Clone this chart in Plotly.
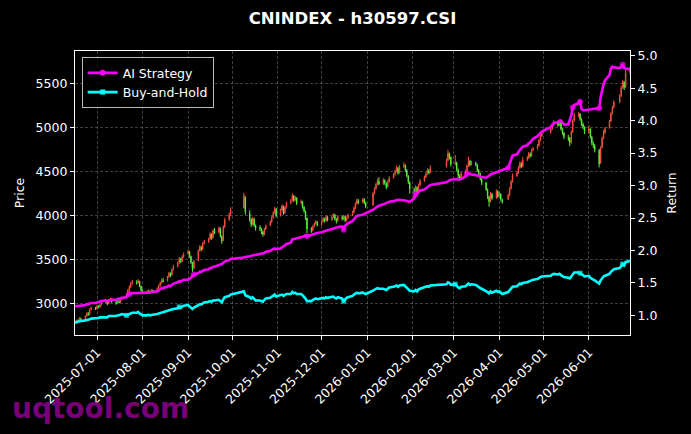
import datetime as dt
import plotly.graph_objects as go

# ---------------- data (one row per week, Mon..Fri; None = market closed) -------------
FIRST_MONDAY = dt.date(2025, 6, 16)
N = None

opens = [
    2775, 2780, 2805, 2795, 2825,
    2820, 2855, 2880, 2875, 2935,
    2945, 2940, 2965, 2960, 2990,
    3010, 3025, 3000, 3040, 3045,
    3015, 3005, 3025, 3015, 3050,
    3070, 3105, 3155, 3190, 3230,
    3245, 3240, 3250, 3195, 3145,
    3120, 3130, 3140, 3130, 3145,
    3145, 3175, 3205, 3240, 3260,
    3260, 3305, 3340, 3325, 3390,
    3425, 3465, 3505, 3480, 3535,
    3570, 3585, 3535, 3465, 3405,
    3490, 3605, 3640, 3620, 3685,
    3700, 3735, 3785, 3750, 3830,
    3810, 3855, 3765, 3720, 3875,
    3955, 4015, N, N, N,
    N, N, N, 4090, 4210,
    4030, 3955, 3905, 3960, 3885,
    3865, 3845, 3815, 3790, 3850,
    3890, 3930, 3980, 4035, 4075,
    4005, 4065, 4105, 4035, 4095,
    4145, 4175, 4225, 4180, 4200,
    4145, 4155, 4095, 4050, 3970,
    3845, 3835, 3880, 3910, 3925,
    3900, 3940, 3960, 3945, 3980,
    3955, 3990, 4010, 3955, 3945,
    3985, 3965, 3990, 3950, 3980,
    4010, 4040, 4090, 4140, 4170,
    4155, 4185, 4145, N, N,
    4120, 4255, 4310, 4360, 4390,
    4365, 4400, 4365, 4330, 4390,
    4435, 4470, 4510, 4540, 4490,
    4560, 4570, 4515, 4450, 4380,
    4295, 4285, 4320, 4270, 4350,
    4400, 4440, 4480, 4510, 4495,
    N, N, N, N, N,
    N, 4560, 4630, 4705, 4665,
    4590, 4600, 4520, 4450, 4425,
    4485, 4510, 4570, 4620, 4585,
    4600, 4575, 4515, 4475, 4415,
    4375, 4295, 4215, 4165, 4245,
    4205, 4275, 4225, 4245, 4180,
    N, 4185, 4235, 4310, 4390,
    4455, 4490, 4550, 4590, 4565,
    4640, 4660, 4700, 4685, 4750,
    4770, 4800, 4860, 4910, N,
    N, N, 4950, 4990, 5035,
    5065, 5035, 5060, 4985, 4940,
    4895, 4885, 4835, 4955, 5085,
    5145, 5155, 5095, 5040, 5005,
    4965, 4985, 4895, 4825, 4795,
    4745, 4600, 4775, 4885, 4945,
    5000, 5075, 5165, 5235, N,
    5295, 5365, 5460, 5520, 5465,
    5635, N, N, N, N,
]

highs = [
    2805, 2815, 2820, 2845, 2840,
    2865, 2900, 2905, 2945, 2965,
    2960, 2985, 2980, 3000, 3020,
    3050, 3035, 3050, 3065, 3060,
    3030, 3045, 3040, 3060, 3075,
    3115, 3165, 3205, 3245, 3270,
    3265, 3275, 3260, 3205, 3160,
    3150, 3160, 3150, 3165, 3160,
    3185, 3215, 3250, 3285, 3290,
    3315, 3360, 3355, 3400, 3440,
    3480, 3530, 3520, 3550, 3580,
    3615, 3600, 3545, 3475, 3495,
    3615, 3665, 3655, 3700, 3725,
    3750, 3810, 3800, 3845, 3860,
    3880, 3865, 3775, 3890, 3975,
    4035, 4095, N, N, N,
    N, N, N, 4260, 4220,
    4060, 3975, 3985, 3975, 3900,
    3890, 3860, 3830, 3860, 3900,
    3945, 3995, 4050, 4100, 4090,
    4080, 4130, 4115, 4110, 4160,
    4190, 4255, 4235, 4225, 4210,
    4185, 4170, 4110, 4060, 3980,
    3870, 3895, 3925, 3950, 3940,
    3955, 3985, 3975, 4005, 3995,
    4005, 4030, 4020, 3975, 4005,
    4000, 4010, 4000, 3990, 4025,
    4055, 4105, 4155, 4195, 4190,
    4205, 4200, 4160, N, N,
    4270, 4325, 4375, 4420, 4440,
    4425, 4415, 4380, 4405, 4450,
    4485, 4525, 4570, 4555, 4575,
    4610, 4585, 4530, 4460, 4390,
    4320, 4345, 4335, 4365, 4415,
    4455, 4495, 4540, 4530, 4575,
    N, N, N, N, N,
    N, 4650, 4750, 4720, 4675,
    4690, 4615, 4535, 4470, 4500,
    4525, 4585, 4670, 4635, 4625,
    4615, 4590, 4530, 4490, 4425,
    4385, 4310, 4225, 4270, 4260,
    4300, 4290, 4270, 4255, 4195,
    N, 4250, 4325, 4405, 4480,
    4505, 4565, 4620, 4610, 4670,
    4680, 4725, 4720, 4765, 4785,
    4815, 4875, 4925, 4965, N,
    N, N, 5005, 5055, 5085,
    5080, 5090, 5070, 5000, 4955,
    4920, 4895, 4970, 5100, 5170,
    5180, 5170, 5110, 5060, 5020,
    5030, 4995, 4910, 4845, 4815,
    4760, 4790, 4900, 4975, 5010,
    5090, 5180, 5250, 5315, N,
    5385, 5480, 5545, 5535, 5660,
    5700, N, N, N, N,
]

lows = [
    2765, 2770, 2775, 2785, 2800,
    2810, 2845, 2860, 2865, 2920,
    2925, 2930, 2945, 2950, 2975,
    3000, 2980, 2990, 3025, 3005,
    2985, 2995, 3000, 3005, 3035,
    3060, 3095, 3140, 3175, 3215,
    3215, 3225, 3185, 3135, 3110,
    3110, 3120, 3115, 3120, 3125,
    3135, 3165, 3190, 3225, 3240,
    3250, 3290, 3300, 3315, 3375,
    3410, 3450, 3460, 3470, 3520,
    3555, 3520, 3450, 3360, 3390,
    3480, 3590, 3595, 3610, 3670,
    3690, 3720, 3725, 3740, 3790,
    3800, 3750, 3680, 3710, 3860,
    3940, 4000, N, N, N,
    N, N, N, 4080, 4010,
    3930, 3870, 3890, 3870, 3830,
    3825, 3790, 3760, 3775, 3835,
    3880, 3915, 3965, 4020, 3980,
    3990, 4050, 4010, 4020, 4080,
    4130, 4160, 4155, 4165, 4120,
    4125, 4080, 4035, 3950, 3800,
    3805, 3820, 3865, 3895, 3875,
    3885, 3925, 3920, 3930, 3935,
    3940, 3975, 3945, 3910, 3930,
    3945, 3950, 3925, 3935, 3965,
    3995, 4025, 4075, 4125, 4130,
    4140, 4130, 4085, N, N,
    4110, 4240, 4295, 4345, 4345,
    4350, 4350, 4300, 4320, 4375,
    4420, 4455, 4495, 4465, 4480,
    4545, 4500, 4435, 4360, 4250,
    4250, 4270, 4245, 4260, 4335,
    4385, 4425, 4465, 4470, 4480,
    N, N, N, N, N,
    N, 4545, 4615, 4640, 4560,
    4570, 4505, 4430, 4400, 4410,
    4440, 4495, 4555, 4560, 4570,
    4560, 4500, 4460, 4400, 4350,
    4280, 4190, 4100, 4150, 4180,
    4190, 4200, 4210, 4165, 4140,
    N, 4180, 4220, 4295, 4375,
    4440, 4475, 4535, 4540, 4550,
    4620, 4645, 4660, 4670, 4735,
    4750, 4785, 4845, 4895, N,
    N, N, 4935, 4975, 5015,
    5010, 5020, 4970, 4920, 4870,
    4850, 4790, 4820, 4940, 5070,
    5120, 5080, 5020, 4985, 4930,
    4940, 4880, 4800, 4770, 4720,
    4550, 4590, 4765, 4870, 4930,
    4990, 5065, 5150, 5220, N,
    5280, 5350, 5445, 5430, 5455,
    5610, N, N, N, N,
]

closes = [
    2790, 2800, 2790, 2830, 2815,
    2850, 2885, 2870, 2930, 2950,
    2935, 2970, 2955, 2985, 3005,
    3030, 2995, 3035, 3050, 3020,
    3000, 3030, 3010, 3045, 3060,
    3100, 3150, 3185, 3225, 3250,
    3235, 3255, 3200, 3150, 3125,
    3135, 3145, 3125, 3150, 3140,
    3170, 3200, 3235, 3265, 3250,
    3300, 3345, 3320, 3385, 3420,
    3460, 3510, 3475, 3530, 3560,
    3590, 3540, 3470, 3400, 3480,
    3600, 3645, 3615, 3680, 3705,
    3730, 3790, 3745, 3825, 3805,
    3860, 3770, 3710, 3870, 3950,
    4010, 4070, N, N, N,
    N, N, N, 4230, 4040,
    3950, 3900, 3965, 3890, 3860,
    3850, 3820, 3785, 3845, 3885,
    3925, 3975, 4030, 4080, 4000,
    4060, 4110, 4030, 4090, 4140,
    4170, 4230, 4175, 4205, 4140,
    4160, 4100, 4055, 3975, 3850,
    3830, 3875, 3905, 3930, 3895,
    3935, 3965, 3940, 3985, 3950,
    3985, 4015, 3960, 3940, 3990,
    3960, 3995, 3945, 3975, 4005,
    4035, 4085, 4135, 4175, 4150,
    4180, 4150, 4105, N, N,
    4250, 4305, 4355, 4395, 4360,
    4405, 4370, 4325, 4385, 4430,
    4465, 4505, 4545, 4485, 4555,
    4575, 4520, 4455, 4385, 4300,
    4280, 4325, 4265, 4345, 4395,
    4435, 4475, 4515, 4490, 4545,
    N, N, N, N, N,
    N, 4625, 4710, 4660, 4585,
    4605, 4525, 4455, 4420, 4480,
    4505, 4565, 4625, 4580, 4605,
    4580, 4520, 4480, 4420, 4380,
    4300, 4220, 4160, 4250, 4200,
    4280, 4220, 4250, 4185, 4150,
    N, 4230, 4305, 4385, 4450,
    4485, 4545, 4595, 4560, 4635,
    4655, 4705, 4680, 4745, 4765,
    4795, 4855, 4905, 4940, N,
    N, N, 4985, 5030, 5060,
    5030, 5065, 4990, 4945, 4900,
    4880, 4830, 4950, 5080, 5140,
    5160, 5100, 5045, 5010, 4960,
    4990, 4900, 4830, 4800, 4750,
    4590, 4770, 4880, 4950, 4990,
    5070, 5160, 5230, 5290, N,
    5360, 5455, 5525, 5460, 5630,
    5680, N, N, N, N,
]

ai_strategy = [
    1.14, 1.14, 1.14, 1.15, 1.15,
    1.16, 1.17, 1.17, 1.18, 1.19,
    1.19, 1.20, 1.20, 1.21, 1.22,
    1.23, 1.22, 1.23, 1.24, 1.24,
    1.24, 1.25, 1.25, 1.26, 1.27,
    1.28, 1.31, 1.33, 1.34, 1.34,
    1.34, 1.35, 1.34, 1.34, 1.34,
    1.34, 1.35, 1.35, 1.36, 1.36,
    1.37, 1.38, 1.40, 1.42, 1.42,
    1.44, 1.46, 1.45, 1.47, 1.49,
    1.51, 1.53, 1.52, 1.54, 1.55,
    1.55, 1.56, 1.58, 1.61, 1.63,
    1.65, 1.67, 1.67, 1.69, 1.70,
    1.71, 1.73, 1.73, 1.75, 1.75,
    1.77, 1.78, 1.79, 1.81, 1.83,
    1.85, 1.87, N, N, N,
    N, N, N, 1.89, 1.90,
    1.91, 1.92, 1.93, 1.93, 1.93,
    1.94, 1.95, 1.95, 1.96, 1.98,
    1.99, 2.01, 2.02, 2.03, 2.02,
    2.03, 2.05, 2.06, 2.08, 2.10,
    2.12, 2.17, 2.17, 2.18, 2.19,
    2.20, 2.21, 2.22, 2.23, 2.22,
    2.24, 2.25, 2.26, 2.27, 2.27,
    2.28, 2.29, 2.30, 2.31, 2.31,
    2.33, 2.34, 2.34, 2.35, 2.36,
    2.37, 2.32, 2.38, 2.40, 2.42,
    2.45, 2.49, 2.51, 2.53, 2.54,
    2.55, 2.56, 2.57, N, N,
    2.62, 2.64, 2.66, 2.68, 2.69,
    2.71, 2.72, 2.72, 2.74, 2.75,
    2.76, 2.77, 2.78, 2.78, 2.78,
    2.78, 2.77, 2.76, 2.76, 2.75,
    2.80, 2.86, 2.88, 2.90, 2.92,
    2.94, 2.96, 2.98, 2.99, 3.01,
    N, N, N, N, N,
    N, 3.05, 3.07, 3.08, 3.09,
    3.10, 3.10, 3.09, 3.09, 3.10,
    3.14, 3.18, 3.19, 3.18, 3.17,
    3.16, 3.15, 3.15, 3.14, 3.13,
    3.12, 3.13, 3.15, 3.17, 3.18,
    3.21, 3.22, 3.23, 3.23, 3.24,
    N, 3.27, 3.33, 3.40, 3.46,
    3.48, 3.52, 3.55, 3.57, 3.60,
    3.62, 3.65, 3.66, 3.69, 3.72,
    3.76, 3.79, 3.81, 3.83, N,
    N, N, 3.90, 3.93, 3.96,
    3.98, 4.00, 4.00, 3.97, 3.94,
    3.94, 4.00, 4.08, 4.20, 4.24,
    4.27, 4.29, 4.18, 4.16, 4.16,
    4.16, 4.17, 4.18, 4.18, 4.19,
    4.19, 4.36, 4.48, 4.56, 4.62,
    4.70, 4.80, 4.83, 4.82, N,
    4.81, 4.82, 4.86, 4.81, 4.80,
    4.79, N, N, N, N,
]

buy_and_hold = [
    0.89, 0.89, 0.90, 0.91, 0.91,
    0.92, 0.93, 0.93, 0.94, 0.95,
    0.95, 0.96, 0.96, 0.97, 0.97,
    0.98, 0.97, 0.99, 0.99, 0.98,
    0.99, 1.00, 1.00, 1.01, 1.02,
    1.00, 1.01, 1.02, 1.03, 1.04,
    1.04, 1.05, 1.03, 1.01, 1.00,
    1.00, 1.01, 1.00, 1.01, 1.01,
    1.02, 1.03, 1.04, 1.05, 1.05,
    1.07, 1.08, 1.08, 1.09, 1.10,
    1.11, 1.13, 1.12, 1.14, 1.15,
    1.16, 1.14, 1.12, 1.10, 1.12,
    1.16, 1.17, 1.17, 1.19, 1.20,
    1.21, 1.22, 1.21, 1.23, 1.23,
    1.24, 1.22, 1.20, 1.25, 1.28,
    1.30, 1.32, N, N, N,
    N, N, N, 1.37, 1.31,
    1.28, 1.26, 1.28, 1.25, 1.23,
    1.23, 1.22, 1.21, 1.24, 1.26,
    1.27, 1.29, 1.31, 1.32, 1.29,
    1.31, 1.32, 1.30, 1.31, 1.33,
    1.33, 1.36, 1.34, 1.35, 1.33,
    1.33, 1.31, 1.29, 1.26, 1.22,
    1.22, 1.24, 1.25, 1.26, 1.25,
    1.26, 1.27, 1.26, 1.28, 1.27,
    1.28, 1.29, 1.27, 1.26, 1.28,
    1.26, 1.22, 1.25, 1.27, 1.28,
    1.30, 1.32, 1.34, 1.35, 1.34,
    1.35, 1.34, 1.33, N, N,
    1.38, 1.40, 1.41, 1.42, 1.41,
    1.41, 1.40, 1.39, 1.41, 1.43,
    1.44, 1.45, 1.46, 1.44, 1.46,
    1.47, 1.45, 1.43, 1.41, 1.38,
    1.37, 1.39, 1.37, 1.40, 1.41,
    1.43, 1.44, 1.45, 1.44, 1.46,
    N, N, N, N, N,
    N, 1.48, 1.51, 1.50, 1.47,
    1.48, 1.45, 1.43, 1.42, 1.44,
    1.45, 1.47, 1.49, 1.47, 1.48,
    1.47, 1.45, 1.44, 1.42, 1.41,
    1.38, 1.36, 1.34, 1.37, 1.35,
    1.38, 1.36, 1.37, 1.35, 1.33,
    N, 1.36, 1.39, 1.41, 1.44,
    1.45, 1.47, 1.49, 1.48, 1.50,
    1.51, 1.52, 1.52, 1.54, 1.55,
    1.56, 1.58, 1.59, 1.60, N,
    N, N, 1.61, 1.63, 1.64,
    1.63, 1.64, 1.62, 1.60, 1.59,
    1.58, 1.57, 1.60, 1.64, 1.66,
    1.66, 1.65, 1.63, 1.62, 1.60,
    1.61, 1.58, 1.56, 1.55, 1.54,
    1.49, 1.54, 1.58, 1.60, 1.61,
    1.64, 1.67, 1.69, 1.71, N,
    1.73, 1.76, 1.79, 1.77, 1.82,
    1.84, N, N, N, N,
]

# days where the strategy lines carry a visible marker
ai_marker_days = ["2025-07-23", "2025-09-05", "2025-11-21", "2025-12-16", "2026-02-03",
                  "2026-03-10", "2026-04-07", "2026-05-21", "2026-05-26", "2026-06-08",
                  "2026-06-24"]
bh_marker_days = ["2025-07-21", "2025-08-26", "2025-12-16", "2026-03-02", "2026-05-26",
                  "2026-06-24"]

TITLE = "CNINDEX - h30597.CSI"
X_RANGE = ["2025-06-16", "2026-06-29"]
PRICE_RANGE = [2641, 5875]
RETURN_RANGE = [0.698, 5.072]

# ---------------- build ----------------
def day_of(i):
    return FIRST_MONDAY + dt.timedelta(days=7 * (i // 5) + i % 5)

idx = [i for i in range(len(closes)) if closes[i] is not None]
dates = [day_of(i).isoformat() for i in idx]
o = [opens[i] for i in idx]
h = [highs[i] for i in idx]
l = [lows[i] for i in idx]
c = [closes[i] for i in idx]
ai = [ai_strategy[i] for i in idx]
bh = [buy_and_hold[i] for i in idx]

ai_sizes = [6 if d in ai_marker_days else 0 for d in dates]
bh_sizes = [5 if d in bh_marker_days else 0 for d in dates]

FONT = "DejaVu Sans"
WHITE = "#ffffff"
MAGENTA = "#ff00ff"
CYAN = "#00ffff"
UP = "#f0503c"
DOWN = "#5af03c"
GRID = "rgba(140,140,140,0.45)"

fig = go.Figure()

fig.add_trace(go.Candlestick(
    x=dates, open=o, high=h, low=l, close=c,
    increasing=dict(line=dict(color=UP, width=1), fillcolor=UP),
    decreasing=dict(line=dict(color=DOWN, width=1), fillcolor=DOWN),
    showlegend=False, hoverinfo="skip", yaxis="y",
))

fig.add_trace(go.Scatter(
    x=dates, y=bh, yaxis="y2", mode="lines+markers",
    line=dict(color=CYAN, width=2.6),
    marker=dict(color=CYAN, size=bh_sizes, symbol="square", line=dict(width=0)),
    showlegend=False, hoverinfo="skip",
))
fig.add_trace(go.Scatter(
    x=dates, y=ai, yaxis="y2", mode="lines+markers",
    line=dict(color=MAGENTA, width=2.6),
    marker=dict(color=MAGENTA, size=ai_sizes, symbol="circle", line=dict(width=0)),
    showlegend=False, hoverinfo="skip",
))

# legend entries
fig.add_trace(go.Scatter(
    x=[None], y=[None], yaxis="y2", mode="lines+markers", name="AI Strategy",
    line=dict(color=MAGENTA, width=2.6),
    marker=dict(color=MAGENTA, size=6, symbol="circle"),
))
fig.add_trace(go.Scatter(
    x=[None], y=[None], yaxis="y2", mode="lines+markers", name="Buy-and-Hold",
    line=dict(color=CYAN, width=2.6),
    marker=dict(color=CYAN, size=5, symbol="square"),
))

axis_common = dict(
    showline=True, linecolor=WHITE, linewidth=1.2,
    ticks="outside", ticklen=4, tickcolor=WHITE, tickwidth=1,
    tickfont=dict(family=FONT, size=12.5, color=WHITE),
    zeroline=False,
)

fig.update_layout(
    width=691, height=434,
    paper_bgcolor="#000000", plot_bgcolor="#000000",
    margin=dict(l=75, r=61, t=51, b=99),
    font=dict(family=FONT, color=WHITE, size=12.5),
    boxgap=0.55,
    title=dict(text="<b>" + TITLE + "</b>", x=0.5, xref="paper", xanchor="center",
               y=1 - 18 / 434, yref="container", yanchor="middle",
               font=dict(family=FONT, size=16.5, color=WHITE)),
    xaxis=dict(
        type="date", range=X_RANGE, rangeslider=dict(visible=False),
        tick0="2025-07-01", dtick="M1", tickformat="%Y-%m-%d", tickangle=-45,
        showgrid=True, gridcolor=GRID, gridwidth=0.5, griddash="3px,2px",
        mirror=True, **axis_common,
    ),
    yaxis=dict(
        range=PRICE_RANGE, tickvals=[3000, 3500, 4000, 4500, 5000, 5500],
        showgrid=True, gridcolor=GRID, gridwidth=0.5, griddash="3px,2px",
        mirror=True,
        title=dict(text="Price", font=dict(family=FONT, size=12.5, color=WHITE), standoff=8),
        **axis_common,
    ),
    yaxis2=dict(
        range=RETURN_RANGE, overlaying="y", side="right",
        tickvals=[1.0, 1.5, 2.0, 2.5, 3.0, 3.5, 4.0, 4.5, 5.0], tickformat=".1f",
        showgrid=False,
        title=dict(text="Return", font=dict(family=FONT, size=12.5, color=WHITE), standoff=10),
        **axis_common,
    ),
    legend=dict(
        x=0.012, y=0.978, xanchor="left", yanchor="top",
        bgcolor="rgba(0,0,0,0.85)", bordercolor="#bbbbbb", borderwidth=1,
        font=dict(family=FONT, size=12.5, color=WHITE),
        itemwidth=30, tracegroupgap=0,
    ),
    annotations=[dict(
        text="<b>uqtool.com</b>", xref="paper", yref="paper",
        x=(10 - 75) / 555, y=(335 - 408) / 284, xanchor="left", yanchor="middle",
        showarrow=False, font=dict(family=FONT, size=28, color="rgba(128,0,128,0.95)"),
    )],
    hovermode=False,
)

fig.write_html("out.html")
